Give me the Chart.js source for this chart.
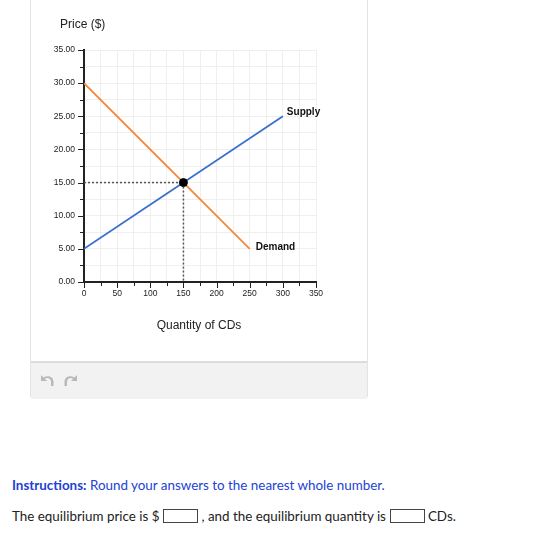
<!DOCTYPE html>
<html>
<head>
<meta charset="utf-8">
<script src="https://cdn.jsdelivr.net/npm/chart.js@4.4.1/dist/chart.umd.min.js"></script>
<style>
  body { margin:0; background:#fff; width:560px; height:543px; position:relative; overflow:hidden; font-family:"Liberation Sans", Arial, sans-serif; }
  #panel { position:absolute; left:30px; top:0; width:336px; height:397px; border-left:1px solid #e4e4e4; border-right:1px solid #e4e4e4; }
  #wrap { position:absolute; left:1px; top:0; width:336px; height:360px; }
  #ytitle { position:absolute; left:29px; top:17px; font-size:12px; color:#222; }
  #xtitle { position:absolute; left:0; width:336px; text-align:center; top:318px; font-size:12px; color:#222; }
  #toolbar { position:absolute; left:0; top:361px; width:336px; height:36px; background:#f2f2f2; border-top:2px solid #dcdcdc; }
  #toolbar svg { position:absolute; top:11px; }
  .txt { position:absolute; left:12px; font-family:Lato, "Open Sans", sans-serif; font-size:13.4px; white-space:nowrap; }
  #instr { top:477px; color:#2241d6; }
  #q { top:508px; color:#222; }
  .box { display:inline-block; width:33px; height:12px; border:1px solid #444; vertical-align:-2px; margin:0 3px 0 4px; }
</style>
</head>
<body>
<div id="panel">
  <div id="wrap"><canvas id="c" width="336" height="360"></canvas></div>
  <div id="ytitle">Price ($)</div>
  <div id="xtitle">Quantity of CDs</div>
  <div id="toolbar">
    <svg style="left:9px" width="14" height="14" viewBox="0 0 14 14"><path d="M1 1 L1 7 L7 7 L4.8 4.8 C7.5 3.2 11 4.5 11 8 L11 12 L13.5 12 L13.5 8 C13.5 3 8.5 0.8 3.6 3.4 Z" fill="#b9b9b9"/></svg>
    <svg style="left:33px" width="14" height="14" viewBox="0 0 14 14"><path d="M13 1 L13 7 L7 7 L9.2 4.8 C6.5 3.2 3 4.5 3 8 L3 12 L0.5 12 L0.5 8 C0.5 3 5.5 0.8 10.4 3.4 Z" fill="#b9b9b9"/></svg>
  </div>
</div>
<div class="txt" id="instr"><b>Instructions:</b> Round your answers to the nearest whole number.</div>
<div class="txt" id="q">The equilibrium price is $<span class="box"></span>, and the equilibrium quantity is<span class="box"></span>CDs.</div>

<script>
// valeurs
const demandQty = [0, 250];
const demandPrice = [30, 5];
const supplyQty = [0, 300];
const supplyPrice = [5, 25];
const eqQty = 150;
const eqPrice = 15;
const xMax = 350, yMax = 35;

const pts = (xs, ys) => xs.map((x, i) => ({x: x, y: ys[i]}));

// petites graduations + etiquettes des courbes
const extras = {
  id: 'extras',
  afterDraw(chart) {
    const ctx = chart.ctx, xs = chart.scales.x, ys = chart.scales.y;
    ctx.save();
    ctx.strokeStyle = '#222';
    ctx.lineWidth = 1;
    ys.ticks.forEach(t => {
      const py = Math.round(ys.getPixelForValue(t.value)) + 0.5;
      const len = t.value % 5 === 0 ? 5 : 3;
      ctx.beginPath(); ctx.moveTo(xs.left - 1, py); ctx.lineTo(xs.left - 1 - len, py); ctx.stroke();
    });
    xs.ticks.forEach(t => {
      const px = Math.round(xs.getPixelForValue(t.value)) + 0.5;
      const len = t.value % 50 === 0 ? 5 : 3;
      ctx.beginPath(); ctx.moveTo(px, ys.bottom + 1); ctx.lineTo(px, ys.bottom + 1 + len); ctx.stroke();
    });
    ctx.fillStyle = '#111';
    ctx.font = 'bold 10px "Liberation Sans", Arial';
    ctx.textBaseline = 'middle';
    ctx.fillText('Supply', xs.getPixelForValue(supplyQty[1]) + 4, ys.getPixelForValue(supplyPrice[1]) - 4);
    ctx.fillText('Demand', xs.getPixelForValue(demandQty[1]) + 6, ys.getPixelForValue(demandPrice[1]) - 2);
    ctx.restore();
  }
};

new Chart(document.getElementById('c'), {
  type: 'scatter',
  data: {
    datasets: [
      {data: [{x: eqQty, y: eqPrice}], pointRadius: 4, pointBackgroundColor: '#000', pointBorderColor: '#000'},
      {data: pts(supplyQty, supplyPrice), showLine: true, borderColor: '#3a6ed0', borderWidth: 1.8, pointRadius: 0},
      {data: pts(demandQty, demandPrice), showLine: true, borderColor: '#f5883d', borderWidth: 1.8, pointRadius: 0},
      {data: pts([0, eqQty], [eqPrice, eqPrice]), showLine: true, borderColor: '#555', borderWidth: 1.5, borderDash: [2, 2], pointRadius: 0},
      {data: pts([eqQty, eqQty], [eqPrice, 0]), showLine: true, borderColor: '#555', borderWidth: 1.5, borderDash: [2, 2], pointRadius: 0}
    ]
  },
  options: {
    responsive: false,
    animation: false,
    layout: {padding: {top: 50, right: 52, left: 0, bottom: 0}},
    plugins: {legend: {display: false}, tooltip: {enabled: false}},
    scales: {
      x: {
        type: 'linear', min: 0, max: xMax,
        ticks: {stepSize: 25, autoSkip: false, maxRotation: 0, padding: 2, color: '#222',
                font: {size: 8.5, family: '"Liberation Sans", Arial'},
                callback: v => v % 50 === 0 ? v : ''},
        grid: {color: '#efefef', drawTicks: true, tickLength: 5, tickColor: 'rgba(0,0,0,0)'},
        border: {color: '#222', width: 2},
        afterFit(s) { s.height = 78; }
      },
      y: {
        type: 'linear', min: 0, max: yMax,
        ticks: {stepSize: 2.5, autoSkip: false, padding: 3, color: '#222',
                font: {size: 8.5, family: '"Liberation Sans", Arial'},
                callback: v => v % 5 === 0 ? v.toFixed(2) : ''},
        grid: {color: '#efefef', drawTicks: true, tickLength: 6, tickColor: 'rgba(0,0,0,0)'},
        border: {color: '#222', width: 2},
        afterFit(s) { s.width = 52; }
      }
    }
  },
  plugins: [extras]
});
</script>
</body>
</html>
